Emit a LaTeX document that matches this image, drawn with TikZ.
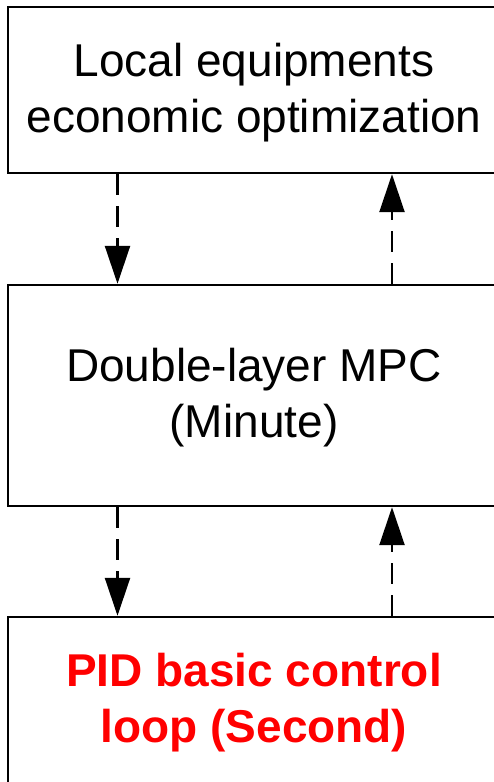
\documentclass[tikz,border=0pt]{standalone}
\usepackage{fontspec}
\setmainfont{Liberation Sans}
\usetikzlibrary{arrows.meta}
\begin{document}
\begin{tikzpicture}[x=1pt,y=-1pt,
  box/.style={draw=black,line width=2.4pt,minimum width=492pt,inner sep=0pt},
  txt/.style={inner sep=0pt,align=center,font=\fontsize{46}{56}\selectfont},
  arr/.style={line width=2.4pt,dash pattern=on 21pt off 11pt,
    -{Triangle[length=38pt,width=25pt]}}
  ]
\useasboundingbox (0,0) rectangle (494,782);
\clip (0,0) rectangle (494,782);
\node[box,minimum height=166pt] (top) at (254,90) {};
\node[box,minimum height=221pt] (mid) at (254,395.5) {};
\node[box,minimum height=166pt] (bot) at (254,700) {};
\node[txt] (toptxt) at (254,93) {Local equipments\\economic optimization};
\node[txt] (midtxt) at (254,398) {Double-layer MPC\\(Minute)};
\node[txt,text=red,font=\fontsize{46}{56}\selectfont\bfseries] (bottxt) at (254,703) {PID basic control\\loop (Second)};
\coordinate (xl) at (117.5,0);
\coordinate (xr) at (392,0);
\draw[arr] (top.south -| xl) -- (mid.north -| xl);
\draw[arr] (mid.north -| xr) -- (top.south -| xr);
\draw[arr] (mid.south -| xl) -- (bot.north -| xl);
\draw[arr] (bot.north -| xr) -- (mid.south -| xr);
\end{tikzpicture}
\end{document}
